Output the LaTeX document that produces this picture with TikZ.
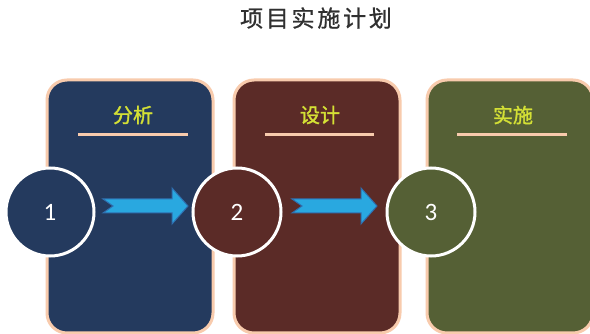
\documentclass[tikz,border=0pt]{standalone}
\usepackage{fontspec}
\newfontfamily\cjktitle[LetterSpace=12,FakeBold=0.8]{Noto Sans CJK SC}
\newfontfamily\cjkb[FakeBold=1.5]{Noto Sans CJK SC}
\newfontfamily\numfont{Carlito}
\definecolor{navy}{HTML}{243A5E}
\definecolor{maroon}{HTML}{5B2B27}
\definecolor{olive}{HTML}{556035}
\definecolor{peach}{HTML}{F8CBAD}
\definecolor{lbl}{HTML}{D4E035}
\definecolor{arrfill}{HTML}{29A8E0}
\definecolor{arredge}{HTML}{2F6FB0}
\definecolor{titlegray}{HTML}{303030}
\tikzset{
  stage/.style={draw=peach, line width=3pt, rounded corners=20pt,
    minimum width=166pt, minimum height=253pt, inner sep=0pt},
  numcircle/.style={circle, draw=white, line width=3pt, minimum size=88pt,
    inner sep=0pt, text=white, font=\numfont\fontsize{25}{25}\selectfont},
  stagelabel/.style={text=lbl, font=\cjkb\fontsize{20}{20}\selectfont, inner sep=0pt},
  rule/.style={draw=peach, line width=3pt},
  flowarrow/.style={fill=arrfill, draw=arredge, line width=1pt, line join=miter}
}
\begin{document}
\begin{tikzpicture}[x=1pt,y=-1pt]
\fill[white] (0,0) rectangle (590,334);
\useasboundingbox (0,0) rectangle (590,334);

\node[font=\cjktitle\fontsize{23}{23}\selectfont, text=titlegray] (title) at (316,18) {项目实施计划};

\node[stage, fill=navy] (b1) at (130,206.5) {};
\node[stage, fill=maroon] (b2) at (317,206.5) {};
\node[stage, fill=olive] (b3) at (510,206.5) {};

\node[stagelabel] (l1) at (133,115) {分析};
\node[stagelabel] (l2) at (320,115) {设计};
\node[stagelabel] (l3) at (513,115) {实施};

\draw[rule] (78,135) -- (188,135);
\draw[rule] (265,135) -- (374,135);
\draw[rule] (457,135) -- (567,135);

\node[numcircle, fill=navy] (c1) at (50,212) {1};
\node[numcircle, fill=maroon] (c2) at (237,212) {2};
\node[numcircle, fill=olive] (c3) at (431,212) {3};

\draw[flowarrow] (103,199) -- (172,199) -- (172,188) -- (188,206) -- (172,224) -- (172,213) -- (103,213) -- (113,206) -- cycle;
\draw[flowarrow] (292,199) -- (361,199) -- (361,188) -- (377,206) -- (361,224) -- (361,213) -- (292,213) -- (302,206) -- cycle;
\end{tikzpicture}
\end{document}
